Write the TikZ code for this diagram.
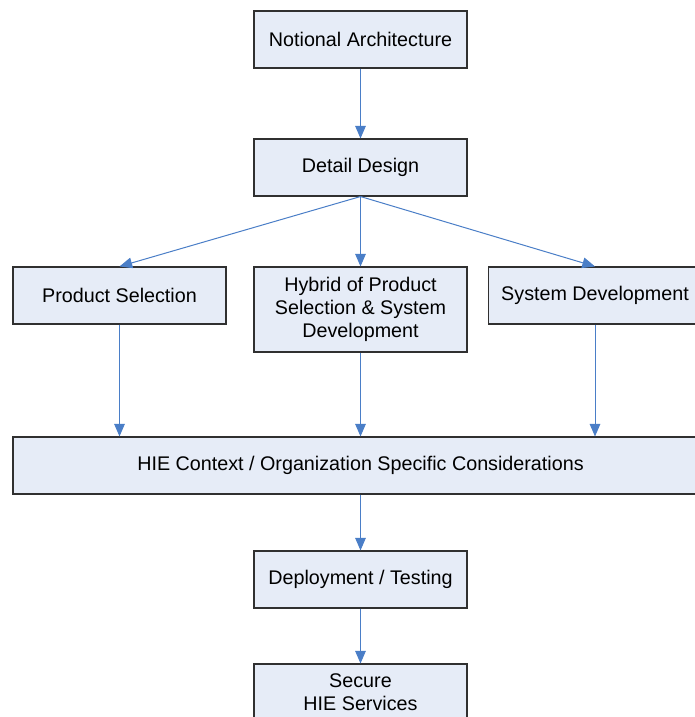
\documentclass[tikz,border=0pt]{standalone}
\usepackage{fontspec}
\setmainfont{Liberation Sans}
\usetikzlibrary{arrows.meta}
\definecolor{boxfill}{HTML}{E6ECF7}
\definecolor{boxline}{HTML}{303030}
\definecolor{arrowblue}{HTML}{4A7EC7}
\tikzset{
  stage/.style={draw=boxline,fill=boxfill,line width=0.8pt,minimum width=213*0.75pt,
    minimum height=57*0.75pt,align=center,inner sep=0pt,font=\fontsize{14.8}{17.3}\selectfont},
  flow/.style={draw=arrowblue,line width=0.75pt,-{Triangle[length=9.5pt,width=8pt]}}
}
\begin{document}
\begin{tikzpicture}[x=0.75pt,y=-0.75pt]
  \useasboundingbox (0,0) rectangle (695,717);
  \clip (0,0) rectangle (695,717);

  \node[stage] (notional) at (360.5,39.5) {Notional Architecture};
  \node[stage] (detail) at (360.5,167.5) {Detail Design};
  \node[stage] (product) at (119.5,295.5) {Product Selection};
  \node[stage,minimum height=85*0.75pt] (hybrid) at (360.5,309.5) {Hybrid of Product\\Selection \& System\\Development};
  \node[stage] (sysdev) at (595,295.5) {System Development};
  \node[stage,minimum width=695*0.75pt] (hie) at (360.5,465.5) {HIE Context / Organization Specific Considerations};
  \node[stage] (deploy) at (360.5,579.5) {Deployment / Testing};
  \node[stage] (secure) at (360.5,692.5) {Secure\\HIE Services};

  \draw[flow] (notional) -- (detail);
  \draw[flow] (detail.south) -- (product.north);
  \draw[flow] (detail) -- (hybrid);
  \draw[flow] (detail.south) -- (sysdev.north);
  \draw[flow] (product.south) -- (product.south |- hie.north);
  \draw[flow] (hybrid) -- (hie);
  \draw[flow] (sysdev.south) -- (sysdev.south |- hie.north);
  \draw[flow] (hie) -- (deploy);
  \draw[flow] (deploy) -- (secure);
\end{tikzpicture}
\end{document}
